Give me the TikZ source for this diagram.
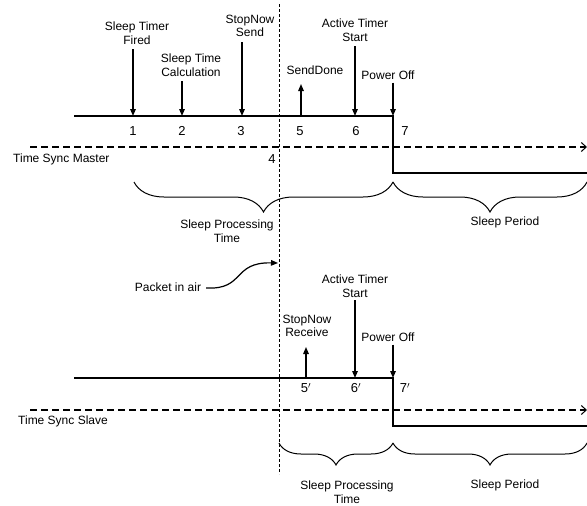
\documentclass[tikz,border=0pt]{standalone}
\usepackage{fontspec}
\setmainfont{Liberation Sans}
\usepackage{tikz}
\usetikzlibrary{arrows.meta,positioning,decorations.pathreplacing}

\begin{document}
\begin{tikzpicture}[
  x=1pt, y=-1pt,
  font=\fontsize{12}{13.5}\selectfont,
  lbl/.style={align=center, inner sep=1pt},
  num/.style={inner sep=1pt, font=\fontsize{13}{14}\selectfont},
  axis/.style={line width=2pt, line join=miter},
  sync/.style={line width=1.6pt, dash pattern=on 7pt off 4pt, -{Straight Barb[length=5pt,width=9pt,line width=1pt]}},
  evt/.style={-{Triangle[length=7pt,width=5.5pt]}, line width=1.4pt},
  brc/.style={decorate, decoration={brace, mirror, amplitude=#1}, line width=1pt},
  divider/.style={line width=1pt, dash pattern=on 3pt off 2pt}
]
\useasboundingbox (0,0) rectangle (587,506);

% master side
\coordinate (m1) at (133,116);
\coordinate (m2) at (182,116);
\coordinate (m3) at (242,116);
\coordinate (m5) at (301,116);
\coordinate (m6) at (355,116);
\coordinate (m7) at (393,116);
\coordinate (mstart) at (74,116);
\coordinate (mdrop) at (393,173);
\coordinate (mend) at (587,173);

\node[lbl] (fired) at (137,33) {Sleep Timer\\Fired};
\node[lbl] (calc) at (191,65) {Sleep Time\\Calculation};
\node[lbl] (send) at (250,26) {StopNow\\Send};
\node[lbl] (senddone) at (315,70) {SendDone};
\node[lbl] (mactive) at (355,30) {Active Timer\\Start};
\node[lbl] (mpower) at (388,75) {Power Off};

\draw[evt] (fired.south -| m1) ++(0,4) -- (m1);
\draw[evt] (calc.south -| m2) ++(0,4) -- (m2);
\draw[evt] (send.south -| m3) ++(0,4) -- (m3);
\draw[evt] (m5) -- ++(0,-32);
\draw[evt] (mactive.south -| m6) ++(0,4) -- (m6);
\draw[evt] (mpower.south -| m7) ++(0,2) -- (m7);

\draw[axis] (mstart) -- (m7) -- (mdrop) -- (mend);

\node[num] (n1) at (133,131) {1};
\node[num] (n2) at (182,131) {2};
\node[num] (n3) at (241,131) {3};
\node[num] (n5) at (300,131) {5};
\node[num] (n6) at (356,131) {6};
\node[num] (n7) at (405,131) {7};

\coordinate (msyncL) at (30,147);
\coordinate (msyncR) at (587,147);
\draw[sync] (msyncL) -- (msyncR);
\node[anchor=west, inner sep=0pt] (master) at (13,159) {Time Sync Master};
\node[num] (n4) at (272,159) {4};

\draw[brc=30pt] (134,182) -- (393,182);
\draw[brc=30pt] (393,182) -- (587,182);
\node[lbl] (mproc) at (227,231) {Sleep Processing\\Time};
\node[lbl] (mperiod) at (505,222) {Sleep Period};

% packet in air
\node[lbl] (pkt) at (168,287) {Packet in air};
\coordinate (pktend) at (278,263);
\draw[evt, line width=1.2pt] (pkt.east) ++(4,1) .. controls (245,290) and (232,262) .. (pktend);

% divider between the two sides
\draw[divider] (279,4) -- (279,474);

% slave side
\coordinate (s5) at (306,378);
\coordinate (s6) at (355,378);
\coordinate (s7) at (393,378);
\coordinate (sstart) at (74,378);
\coordinate (sdrop) at (393,426);
\coordinate (send2) at (587,426);

\node[lbl] (sactive) at (355,286) {Active Timer\\Start};
\node[lbl] (receive) at (307,326) {StopNow\\Receive};
\node[lbl] (spower) at (388,337) {Power Off};

\draw[evt] (s5) -- ++(0,-31);
\draw[evt] (sactive.south -| s6) ++(0,2) -- (s6);
\draw[evt] (spower.south -| s7) ++(0,2) -- (s7);

\draw[axis] (sstart) -- (s7) -- (sdrop) -- (send2);

\node[num] (p5) at (306,388) {5$'$};
\node[num] (p6) at (356,388) {6$'$};
\node[num] (p7) at (405,388) {7$'$};

\coordinate (ssyncL) at (30,410);
\coordinate (ssyncR) at (587,410);
\draw[sync] (ssyncL) -- (ssyncR);
\node[anchor=west, inner sep=0pt] (slave) at (18,421) {Time Sync Slave};

\draw[brc=22pt] (279,443) -- (393,443);
\draw[brc=22pt] (393,443) -- (587,443);
\node[lbl] (sproc) at (347,492) {Sleep Processing\\Time};
\node[lbl] (speriod) at (505,485) {Sleep Period};
\end{tikzpicture}
\end{document}
